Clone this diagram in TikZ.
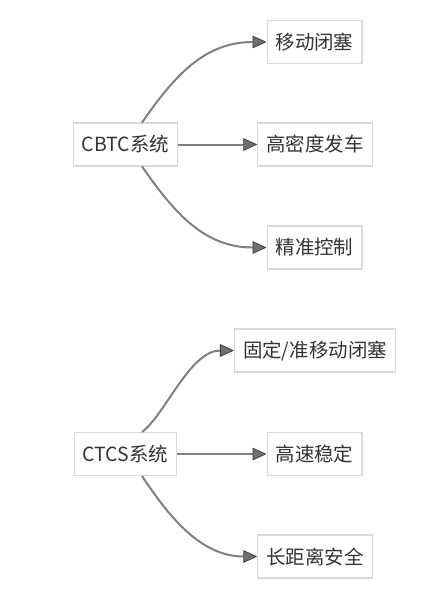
\documentclass[tikz,border=0pt]{standalone}
\usepackage{fontspec}
\setmainfont{Noto Sans CJK SC}
\usetikzlibrary{arrows.meta}
\definecolor{boxline}{HTML}{D9D9D9}
\definecolor{edge}{HTML}{808080}
\definecolor{tipfill}{HTML}{707070}
\definecolor{tipline}{HTML}{404040}
\definecolor{txt}{HTML}{333333}
\begin{document}
\begin{tikzpicture}[x=0.75pt,y=-0.75pt,
  box/.style={draw=boxline,line width=0.8pt,fill=white,text=txt,
    font=\fontsize{14.6pt}{17pt}\selectfont,inner xsep=6.4pt,inner ysep=0pt,
    minimum height=32.25pt,anchor=center},
  link/.style={draw=edge,line width=1.5pt,
    -{Triangle[length=10.5pt,width=9.5pt,fill=tipfill,color=tipline,line width=0.6pt]}}]
\useasboundingbox[fill=white] (0,0) rectangle (443,589);
% CBTC group
\node[box] (cbtc) at (125.5,144.5) {CBTC系统};
\node[box] (m1) at (314.5,42) {移动闭塞};
\node[box] (m2) at (315,144.5) {高密度发车};
\node[box] (m3) at (314.5,247.5) {精准控制};
\coordinate (c1) at ([xshift=12.4pt]cbtc.north);
\coordinate (c3) at ([xshift=12.4pt]cbtc.south);
\draw[link] (c1) .. controls (175,75) and (205,42) .. (m1.west);
\draw[link] (cbtc.east) -- (m2.west);
\draw[link] (c3) .. controls (175,214) and (205,247.5) .. (m3.west);
% CTCS group
\node[box] (ctcs) at (125.5,454) {CTCS系统};
\node[box] (t1) at (315,350.5) {固定/准移动闭塞};
\node[box] (t2) at (314.5,454) {高速稳定};
\node[box] (t3) at (315,556.5) {长距离安全};
\coordinate (d1) at ([xshift=12.4pt]ctcs.north);
\coordinate (d3) at ([xshift=12.4pt]ctcs.south);
\draw[link] (d1) .. controls (165,415) and (190,350.5) .. (t1.west);
\draw[link] (ctcs.east) -- (t2.west);
\draw[link] (d3) .. controls (168,515) and (200,556.5) .. (t3.west);
\end{tikzpicture}
\end{document}
